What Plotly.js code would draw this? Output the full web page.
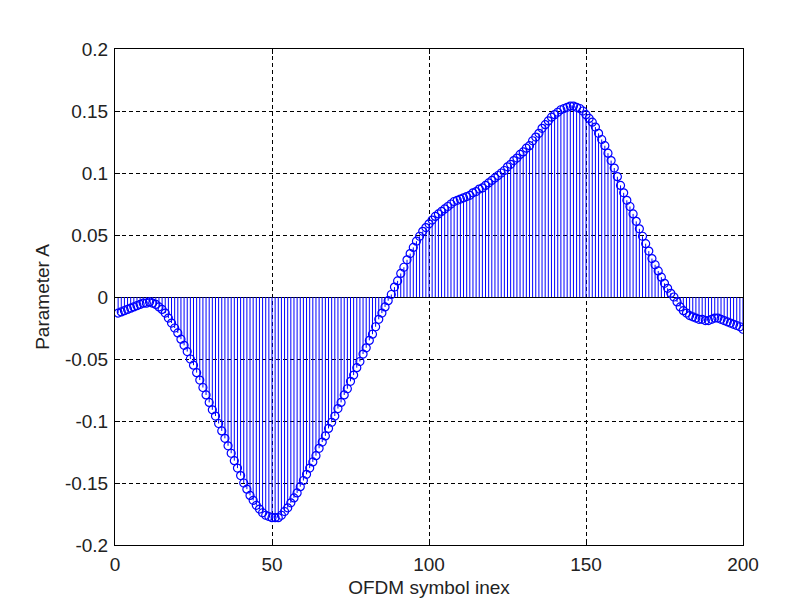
<!DOCTYPE html>
<html>
<head>
<meta charset="utf-8">
<script src="https://cdn.plot.ly/plotly-3.0.1.min.js"></script>
<style>html,body{margin:0;padding:0;background:#fff;}#chart{width:803px;height:612px;}</style>
</head>
<body>
<div id="chart"></div>
<script>
// OFDM symbol index
const symbolIndex = [];
for (let i = 1; i <= 200; i++) symbolIndex.push(i);

// Parameter A values
const paramA = [
 -0.013,-0.012,-0.011,-0.010,-0.009,-0.008,-0.007,-0.006,-0.005,-0.005,
 -0.004,-0.005,-0.006,-0.008,-0.010,-0.013,-0.017,-0.021,-0.025,-0.029,
 -0.034,-0.039,-0.044,-0.050,-0.055,-0.061,-0.067,-0.073,-0.079,-0.085,
 -0.091,-0.096,-0.102,-0.108,-0.114,-0.120,-0.126,-0.132,-0.138,-0.144,
 -0.150,-0.155,-0.160,-0.164,-0.168,-0.171,-0.174,-0.176,-0.177,-0.178,
 -0.178,-0.178,-0.176,-0.173,-0.170,-0.166,-0.162,-0.158,-0.153,-0.148,
 -0.143,-0.138,-0.133,-0.128,-0.122,-0.117,-0.112,-0.106,-0.101,-0.096,
 -0.090,-0.085,-0.079,-0.074,-0.068,-0.063,-0.057,-0.052,-0.046,-0.041,
 -0.035,-0.030,-0.024,-0.018,-0.013,-0.008,-0.003,0.002,0.008,0.013,
 0.019,0.024,0.030,0.035,0.040,0.045,0.049,0.053,0.056,0.059,
 0.062,0.065,0.067,0.069,0.071,0.073,0.075,0.077,0.078,0.079,
 0.080,0.081,0.082,0.084,0.085,0.087,0.088,0.090,0.092,0.094,
 0.096,0.098,0.100,0.102,0.105,0.107,0.110,0.112,0.115,0.117,
 0.120,0.122,0.126,0.129,0.132,0.136,0.139,0.142,0.145,0.147,
 0.149,0.151,0.152,0.153,0.154,0.154,0.153,0.152,0.150,0.147,
 0.144,0.141,0.137,0.132,0.127,0.122,0.116,0.110,0.104,0.097,
 0.090,0.084,0.078,0.073,0.067,0.061,0.055,0.049,0.043,0.037,
 0.031,0.026,0.021,0.016,0.011,0.007,0.003,0.000,-0.004,-0.008,
 -0.011,-0.013,-0.015,-0.016,-0.017,-0.018,-0.018,-0.019,-0.019,-0.018,
 -0.017,-0.017,-0.018,-0.019,-0.020,-0.021,-0.022,-0.023,-0.024,-0.026
];

const xTickVals = [0, 50, 100, 150, 200];
const xTickText = ['0', '50', '100', '150', '200'];
const yTickVals = [0.2, 0.15, 0.1, 0.05, 0, -0.05, -0.1, -0.15, -0.2];
const yTickText = ['0.2', '0.15', '0.1', '0.05', '0', '-0.05', '-0.1', '-0.15', '-0.2'];

const stemUp = paramA.map(v => v < 0 ? -v : 0);
const stemDown = paramA.map(v => v > 0 ? v : 0);

const trace = {
  type: 'scatter',
  mode: 'markers',
  x: symbolIndex,
  y: paramA,
  marker: {symbol: 'circle-open', size: 8, color: '#0000ff', line: {width: 1.2, color: '#0000ff'}},
  error_y: {type: 'data', symmetric: false, array: stemUp, arrayminus: stemDown,
            width: 0, thickness: 1, color: '#0000ff'},
  hoverinfo: 'x+y'
};

const axisFont = {family: 'Liberation Sans, Arial, sans-serif', size: 19, color: '#222'};

const layout = {
  width: 803, height: 612,
  margin: {l: 115, r: 60, t: 49, b: 67},
  paper_bgcolor: '#fff', plot_bgcolor: '#fff',
  showlegend: false,
  font: axisFont,
  xaxis: {
    range: [0, 200], tickvals: xTickVals, ticktext: xTickText,
    showgrid: true, gridcolor: '#000', griddash: '4px,3px', gridwidth: 1,
    zeroline: false, showline: true, linecolor: '#000', linewidth: 1, mirror: 'ticks',
    ticks: 'inside', ticklen: 5, tickcolor: '#000',
    tickfont: axisFont, ticklabelstandoff: 2,
    title: {text: 'OFDM symbol inex', font: axisFont, standoff: 6}
  },
  yaxis: {
    range: [-0.2, 0.2], tickvals: yTickVals, ticktext: yTickText,
    showgrid: true, gridcolor: '#000', griddash: '4px,3px', gridwidth: 1,
    zeroline: true, zerolinecolor: '#000', zerolinewidth: 1,
    showline: true, linecolor: '#000', linewidth: 1, mirror: 'ticks',
    ticks: 'inside', ticklen: 5, tickcolor: '#000',
    tickfont: axisFont, ticklabelstandoff: 2,
    title: {text: 'Parameter A', font: axisFont, standoff: 10}
  }
};

Plotly.newPlot('chart', [trace], layout, {staticPlot: true});
</script>
</body>
</html>
